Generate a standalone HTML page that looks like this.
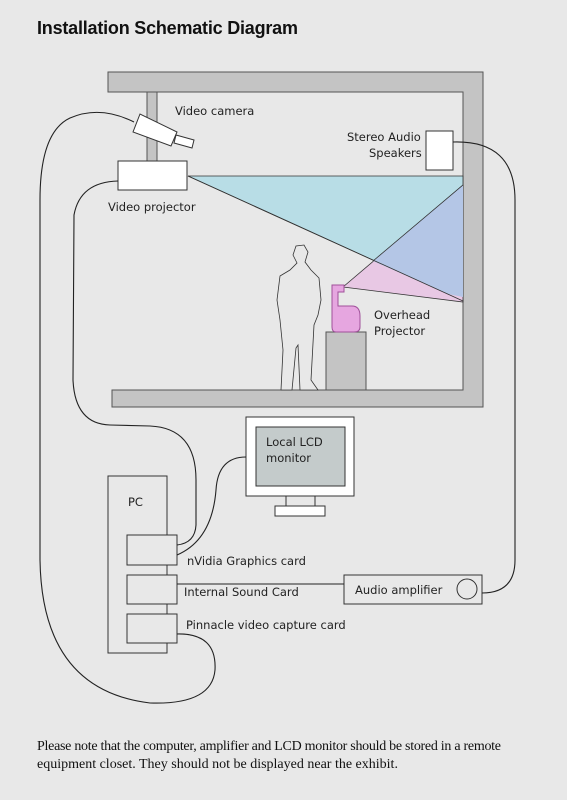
<!DOCTYPE html>
<html><head><meta charset="utf-8"><style>
html,body{margin:0;padding:0;background:#e8e8e8;}
svg{display:block;}
.s{font-family:"DejaVu Sans","Liberation Sans",sans-serif;font-size:11.5px;fill:#222;}
</style></head><body>
<svg width="567" height="800" viewBox="0 0 567 800">
<rect width="567" height="800" fill="#e8e8e8"/>
<text x="37" y="34" font-family="Liberation Sans,sans-serif" font-weight="bold" font-size="18" fill="#111" textLength="261">Installation Schematic Diagram</text>

<g fill="#c4c4c4" stroke="#555" stroke-width="1">
<path d="M108,72 H483 V407 H112 V390 H463 V92 H108 Z"/>
<rect x="147" y="92" width="10" height="69"/>
</g>

<g stroke="#333" stroke-width="0.8">
<polygon points="188,176 463,176 463,301" fill="#b8dde6"/>
<polygon points="343,287 463,185 463,302" fill="#e8c8e4"/>
<polygon points="373,261 463,185 463,297 448,294" fill="#b4c6e6" stroke="none"/>
<line x1="373" y1="261" x2="463" y2="185"/>
<line x1="188" y1="176" x2="463" y2="301"/>
</g>

<g fill="#fff" stroke="#333" stroke-width="1">
<polygon points="133,132 140,114 177,132 171,146"/>
<polygon points="176,135 194,140 192,148 174,143"/>
</g>
<rect x="118" y="161" width="69" height="29" fill="#fff" stroke="#333"/>
<rect x="426" y="131" width="27" height="39" fill="#fff" stroke="#333"/>
<rect x="326" y="332" width="40" height="58" fill="#c4c4c4" stroke="#555"/>
<path d="M332,285 H344 V292 H338 V306 H352 Q360,306 360,316 V327 Q360,332 354,332 H336 Q332,332 332,327 Z" fill="#e6a6e0" stroke="#a0509a"/>
<path d="M300,390 L298,345 L296,348 L292,390 L281,390 L283,350 L280,320 L277,300 L280,276 L290,270 L297,263 L293,255 L296,246 L304,245 L308,252 L305,262 L311,270 L319,278 L321,300 L318,315 L314,325 L311,380 L318,390 Z" fill="#e8e8e8" stroke="#333" stroke-width="0.8"/>

<g class="s">
<text x="175" y="115">Video camera</text>
<text x="108" y="211">Video projector</text>
<text x="347" y="141">Stereo Audio</text>
<text x="369" y="157">Speakers</text>
<text x="374" y="319">Overhead</text>
<text x="374" y="335">Projector</text>
</g>

<g stroke="#333">
<rect x="246" y="417" width="108" height="79" fill="#fff"/>
<rect x="256" y="427" width="89" height="59" fill="#c4cbcb"/>
<line x1="286" y1="496" x2="286" y2="506"/><line x1="315" y1="496" x2="315" y2="506"/>
<rect x="275" y="506" width="50" height="10" fill="#fff"/>
</g>
<text class="s" x="266" y="446">Local LCD</text>
<text class="s" x="266" y="462">monitor</text>

<rect x="108" y="476" width="59" height="177" fill="#e8e8e8" stroke="#333"/>
<text class="s" x="128" y="506">PC</text>
<rect x="127" y="535" width="50" height="30" fill="#e8e8e8" stroke="#333"/>
<rect x="127" y="575" width="50" height="29" fill="#e8e8e8" stroke="#333"/>
<rect x="127" y="614" width="50" height="29" fill="#e8e8e8" stroke="#333"/>
<rect x="344" y="575" width="138" height="29" fill="#e8e8e8" stroke="#333"/>
<circle cx="467" cy="589" r="10" fill="none" stroke="#333"/>
<g class="s">
<text x="187" y="565">nVidia Graphics card</text>
<text x="184" y="596">Internal Sound Card</text>
<text x="186" y="629">Pinnacle video capture card</text>
<text x="355" y="594">Audio amplifier</text>
</g>

<g fill="none" stroke="#222" stroke-width="1.1">
<path d="M118,181 Q80,182 74,215 L73,380 Q75,424 110,425 L150,426 Q196,428 196,480 L196,525 Q195,543 177,545"/>
<path d="M246,457 Q218,457 216,490 Q212,540 177,555"/>
<path d="M134,122 Q100,105 70,118 Q40,132 40,200 L40,560 Q42,690 150,703 Q212,705 215,670 Q217,633 177,634"/>
<path d="M453,142 Q515,140 515,200 L515,560 Q515,593 482,593"/>
<line x1="177" y1="584" x2="344" y2="584"/>
</g>

<g font-family="Liberation Serif,serif" font-size="14" fill="#111">
<text x="37" y="750" textLength="464">Please note that the computer, amplifier and LCD monitor should be stored in a remote</text>
<text x="37" y="768">equipment closet. They should not be displayed near the exhibit.</text>
</g>
</svg>
</body></html>
